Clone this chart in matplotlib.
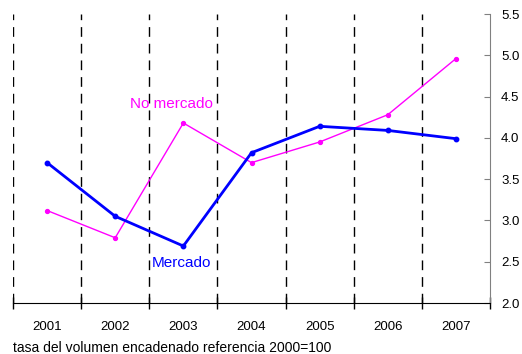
import matplotlib
matplotlib.use("Agg")
import matplotlib.pyplot as plt
import numpy as np

plt.rcParams['font.family'] = ['Liberation Sans', 'DejaVu Sans']

years = ["2001", "2002", "2003", "2004", "2005", "2006", "2007"]
mercado = [3.70, 3.05, 2.69, 3.82, 4.14, 4.09, 3.99]
no_mercado = [3.12, 2.79, 4.18, 3.70, 3.95, 4.28, 4.96]
y_ticks = [2.0, 2.5, 3.0, 3.5, 4.0, 4.5, 5.0, 5.5]

fig = plt.figure(figsize=(5.22, 3.54), dpi=100)
ax = fig.add_axes([13 / 522, 1 - 303 / 354, (490 - 13) / 522, (303 - 14) / 354])

x = np.arange(len(years))
bounds = np.arange(len(years)) - 0.5

# dashed separators between the years
for b in bounds:
    ax.axvline(b, color="black", lw=1.0, dashes=(7, 5), zorder=1)

ax.plot(x, no_mercado, color="#ff00ff", lw=1.0, marker="o", ms=2.8, zorder=3)
ax.plot(x, mercado, color="#0000ff", lw=2.0, marker="o", ms=3.2, zorder=4)

ax.text(1.82, 4.41, "No mercado", color="#ff00ff", fontsize=11, ha="center", va="center")
ax.text(1.97, 2.48, "Mercado", color="#0000ff", fontsize=11, ha="center", va="center")

ax.set_xlim(-0.5, 6.5)
ax.set_ylim(2.0, 5.5)

ax.set_xticks(x)
ax.set_xticklabels(years, fontsize=9.5)
ax.set_xticks(np.append(bounds, 6.5), minor=True)
ax.tick_params(axis="x", which="major", length=0, pad=13)
ax.tick_params(axis="x", which="minor", direction="inout", length=9, width=1, color="black")

ax.yaxis.tick_right()
ax.set_yticks(y_ticks)
ax.set_yticklabels([f"{v:.1f}" for v in y_ticks], fontsize=9.5)
ax.tick_params(axis="y", direction="in", length=4, color="#808080", pad=8)

for s in ["top", "left"]:
    ax.spines[s].set_visible(False)
ax.spines["right"].set_color("#808080")
ax.spines["bottom"].set_color("black")

fig.text(13 / 522, 1 - 348 / 354, "tasa del volumen encadenado referencia 2000=100",
         fontsize=10, ha="left", va="center")

fig.savefig("out.png", dpi=100)
